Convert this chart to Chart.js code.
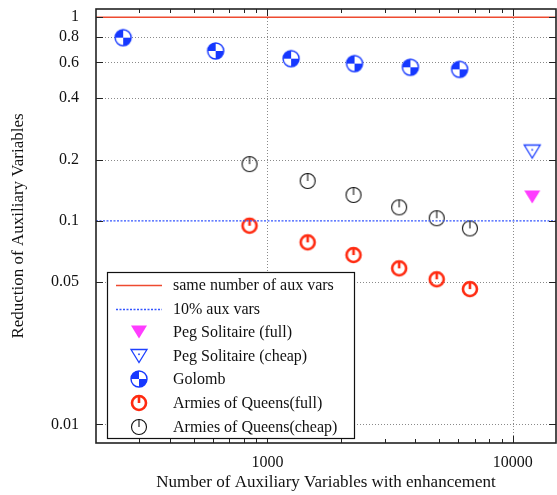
<!DOCTYPE html>
<html>
<head>
<meta charset="utf-8">
<script src="https://cdn.jsdelivr.net/npm/chart.js@4.4.0/dist/chart.umd.min.js"></script>
<style>
  body { margin: 0; background: #fff; }
  canvas { display: block; }
</style>
</head>
<body>
<canvas id="chart1" width="557" height="495"></canvas>
<script>
// values
const refX = [200, 15000];
const sameY = [1, 1];
const tenPctY = [0.1, 0.1];

const pegX = [12000];
const pegFullY = [0.131];
const pegCheapY = [0.219];

const golombX = [258, 615, 1248, 2264, 3824, 6070];
const golombY = [0.794, 0.683, 0.626, 0.592, 0.568, 0.555];

const armiesX = [845, 1458, 2243, 3441, 4896, 6687];
const armiesFullY = [0.0946, 0.0784, 0.0679, 0.0584, 0.0516, 0.0462];
const armiesCheapY = [0.190, 0.157, 0.134, 0.1165, 0.103, 0.0918];

const xTicks = [1000, 10000];
const xMinor = [300, 400, 500, 600, 700, 800, 900, 2000, 3000, 4000, 5000, 6000, 7000, 8000, 9000];
const yTicks = [0.01, 0.05, 0.1, 0.2, 0.4, 0.6, 0.8, 1];

const FONT = "'Liberation Serif', 'Times New Roman', serif";

function pts(xs, ys) {
  return xs.map((x, i) => ({x: x, y: ys[i]}));
}

function marker(draw) {
  var c = document.createElement('canvas');
  c.width = 22; c.height = 22;
  var g = c.getContext('2d');
  g.translate(11, 11);
  draw(g);
  return c;
}

var golombMark = marker(g => {
  g.beginPath(); g.arc(0, 0, 8, 0, Math.PI * 2); g.fillStyle = '#fff'; g.fill();
  g.fillStyle = '#1638ff';
  g.beginPath(); g.moveTo(0, 0); g.arc(0, 0, 8, Math.PI, Math.PI * 1.5); g.closePath(); g.fill();
  g.beginPath(); g.moveTo(0, 0); g.arc(0, 0, 8, 0, Math.PI * 0.5); g.closePath(); g.fill();
  g.beginPath(); g.arc(0, 0, 8, 0, Math.PI * 2);
  g.strokeStyle = '#1638ff'; g.lineWidth = 1.4; g.stroke();
});

var armiesFullMark = marker(g => {
  g.strokeStyle = '#ff2a10'; g.lineWidth = 2.6;
  g.beginPath(); g.arc(0, 0, 7, 0, Math.PI * 2); g.stroke();
  g.beginPath(); g.moveTo(0, -7); g.lineTo(0, 0); g.stroke();
});

var armiesCheapMark = marker(g => {
  g.strokeStyle = '#111'; g.lineWidth = 1.1;
  g.beginPath(); g.arc(0, 0, 7.5, 0, Math.PI * 2); g.stroke();
  g.beginPath(); g.moveTo(0, -8); g.lineTo(0, 0); g.stroke();
});

function triangle(g) {
  g.beginPath(); g.moveTo(-8, -6.5); g.lineTo(8, -6.5); g.lineTo(0, 6.5); g.closePath();
}

var pegFullMark = marker(g => {
  triangle(g); g.fillStyle = '#ff3cff'; g.fill();
});

var pegCheapMark = marker(g => {
  triangle(g); g.strokeStyle = '#1e40ff'; g.lineWidth = 1.3; g.stroke();
  g.fillStyle = '#1e40ff'; g.fillRect(-0.8, -2.5, 1.6, 1.6);
});

// grid, frame, tick marks and the boxed legend, gnuplot style
var gnuplotLook = {
  id: 'gnuplotLook',
  beforeDraw(chart) {
    var ctx = chart.ctx;
    ctx.save();
    ctx.fillStyle = '#fff';
    ctx.fillRect(0, 0, chart.width, chart.height);
    ctx.restore();
  },
  beforeDatasetsDraw(chart) {
    var ctx = chart.ctx, a = chart.chartArea;
    var xs = chart.scales.x, ys = chart.scales.y;
    ctx.save();
    ctx.strokeStyle = '#8a8a8a';
    ctx.lineWidth = 1;
    ctx.setLineDash([1, 2]);
    yTicks.forEach(v => {
      if (v === 1 || v === 0.1) return;
      var y = Math.round(ys.getPixelForValue(v)) + 0.5;
      ctx.beginPath(); ctx.moveTo(a.left, y); ctx.lineTo(a.right, y); ctx.stroke();
    });
    xTicks.forEach(v => {
      var x = Math.round(xs.getPixelForValue(v)) + 0.5;
      ctx.beginPath(); ctx.moveTo(x, a.top); ctx.lineTo(x, a.bottom); ctx.stroke();
    });
    ctx.restore();
  },
  afterDatasetsDraw(chart) {
    var ctx = chart.ctx, a = chart.chartArea;
    var xs = chart.scales.x, ys = chart.scales.y;
    ctx.save();
    ctx.strokeStyle = '#222';
    ctx.lineWidth = 1;
    ctx.setLineDash([]);
    // tick marks on all four sides
    yTicks.forEach(v => {
      var y = Math.round(ys.getPixelForValue(v)) + 0.5;
      ctx.beginPath();
      ctx.moveTo(a.left, y); ctx.lineTo(a.left + 7, y);
      ctx.moveTo(a.right, y); ctx.lineTo(a.right - 7, y);
      ctx.stroke();
    });
    xTicks.forEach(v => {
      var x = Math.round(xs.getPixelForValue(v)) + 0.5;
      ctx.beginPath();
      ctx.moveTo(x, a.bottom); ctx.lineTo(x, a.bottom - 7);
      ctx.moveTo(x, a.top); ctx.lineTo(x, a.top + 7);
      ctx.stroke();
    });
    xMinor.forEach(v => {
      var x = Math.round(xs.getPixelForValue(v)) + 0.5;
      ctx.beginPath();
      ctx.moveTo(x, a.bottom); ctx.lineTo(x, a.bottom - 4);
      ctx.moveTo(x, a.top); ctx.lineTo(x, a.top + 4);
      ctx.stroke();
    });

    // legend box
    var bx = 107.5, by = 272.5, bw = 247, bh = 166;
    ctx.fillStyle = '#fff';
    ctx.fillRect(bx, by, bw, bh);
    ctx.strokeStyle = '#111';
    ctx.lineWidth = 1.2;
    ctx.strokeRect(bx, by, bw, bh);
    ctx.font = '16px ' + FONT;
    ctx.textBaseline = 'middle';
    ctx.textAlign = 'left';
    chart.data.datasets.forEach((ds, i) => {
      var ry = Math.round(285 + i * 23.6);
      if (ds.showLine) {
        ctx.save();
        ctx.strokeStyle = ds.borderColor;
        ctx.lineWidth = ds.borderWidth;
        ctx.setLineDash(ds.borderDash || []);
        ctx.beginPath(); ctx.moveTo(116, ry + 0.5); ctx.lineTo(162, ry + 0.5); ctx.stroke();
        ctx.restore();
      } else {
        var m = ds.pointStyle;
        ctx.drawImage(m, 139 - m.width / 2, ry - m.height / 2);
      }
      ctx.fillStyle = '#111';
      ctx.fillText(ds.label, 173, ry + 1);
    });

    // frame
    ctx.strokeStyle = '#222';
    ctx.lineWidth = 1.6;
    ctx.strokeRect(a.left, a.top, a.right - a.left, a.bottom - a.top);
    ctx.restore();
  }
};

var ctx = document.getElementById('chart1').getContext('2d');
var reductionChart = new Chart(ctx, {
  type: 'scatter',
  data: {
    datasets: [{
      label: 'same number of aux vars',
      data: pts(refX, sameY),
      showLine: true,
      borderColor: '#ee4a30',
      borderWidth: 1.6,
      pointRadius: 0
    }, {
      label: '10% aux vars',
      data: pts(refX, tenPctY),
      showLine: true,
      borderColor: '#3355ff',
      borderWidth: 1.3,
      borderDash: [2, 1.5],
      pointRadius: 0
    }, {
      label: 'Peg Solitaire (full)',
      data: pts(pegX, pegFullY),
      pointStyle: pegFullMark
    }, {
      label: 'Peg Solitaire (cheap)',
      data: pts(pegX, pegCheapY),
      pointStyle: pegCheapMark
    }, {
      label: 'Golomb',
      data: pts(golombX, golombY),
      pointStyle: golombMark
    }, {
      label: 'Armies of Queens(full)',
      data: pts(armiesX, armiesFullY),
      pointStyle: armiesFullMark
    }, {
      label: 'Armies of Queens(cheap)',
      data: pts(armiesX, armiesCheapY),
      pointStyle: armiesCheapMark
    }]
  },
  options: {
    responsive: false,
    animation: false,
    devicePixelRatio: 1,
    layout: {
      autoPadding: false,
      padding: { top: 9, right: 1, left: 0, bottom: 0 }
    },
    plugins: {
      legend: { display: false },
      tooltip: { enabled: false }
    },
    scales: {
      x: {
        type: 'logarithmic',
        min: 200,
        max: 15000,
        grid: { display: false },
        border: { display: false },
        afterBuildTicks: s => { s.ticks = xTicks.map(v => ({value: v})); },
        afterFit: s => {
          s.height = 52;
          s.paddingLeft = 0; s.paddingRight = 0;
        },
        ticks: {
          padding: 2,
          maxRotation: 0,
          color: '#111',
          font: { family: FONT, size: 16 },
          callback: v => String(v)
        },
        title: {
          display: true,
          text: 'Number of Auxiliary Variables with enhancement',
          color: '#111',
          font: { family: FONT, size: 17 },
          padding: { top: 0, bottom: 2 }
        }
      },
      y: {
        type: 'logarithmic',
        min: 0.0081,
        max: 1.098,
        grid: { display: false },
        border: { display: false },
        afterBuildTicks: s => { s.ticks = yTicks.map(v => ({value: v})); },
        afterFit: s => {
          s.width = 96;
          s.paddingTop = 0; s.paddingBottom = 0;
        },
        ticks: {
          padding: 9,
          color: '#111',
          font: { family: FONT, size: 16 },
          callback: v => String(v)
        },
        title: {
          display: true,
          text: 'Reduction of Auxiliary Variables',
          color: '#111',
          font: { family: FONT, size: 17 },
          padding: { top: 8, bottom: 0 }
        }
      }
    }
  },
  plugins: [gnuplotLook]
});
</script>
</body>
</html>
